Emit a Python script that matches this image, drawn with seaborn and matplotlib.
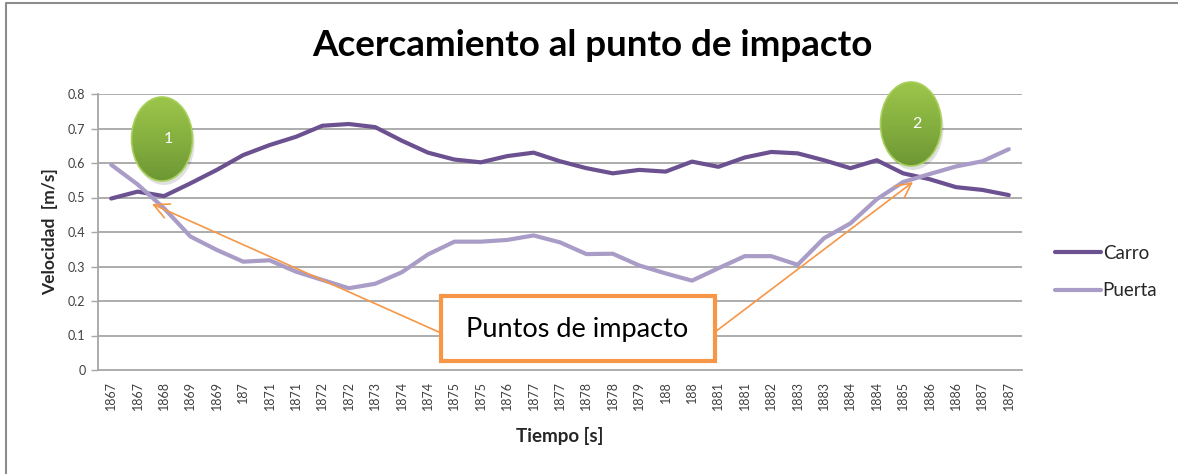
import numpy as np
import pandas as pd
import matplotlib
matplotlib.use("Agg")
import matplotlib.pyplot as plt
import seaborn as sns
from matplotlib.patches import Ellipse, FancyBboxPatch

# Time stamps (as shown on the axis) and velocities of both bodies
tiempo = ["1867", "1867", "1868", "1869", "1869", "187", "1871", "1871", "1872",
          "1872", "1873", "1874", "1874", "1875", "1875", "1876", "1877", "1877",
          "1878", "1878", "1879", "188", "188", "1881", "1881", "1882", "1883",
          "1883", "1884", "1884", "1885", "1886", "1886", "1887", "1887"]
carro = [0.497, 0.517, 0.504, 0.541, 0.580, 0.623, 0.652, 0.676, 0.708, 0.713,
         0.704, 0.665, 0.630, 0.610, 0.602, 0.620, 0.630, 0.605, 0.585, 0.570,
         0.580, 0.575, 0.604, 0.589, 0.616, 0.632, 0.628, 0.608, 0.585, 0.608,
         0.570, 0.553, 0.530, 0.522, 0.507]
puerta = [0.595, 0.538, 0.469, 0.387, 0.348, 0.314, 0.318, 0.285, 0.261, 0.237,
          0.250, 0.283, 0.335, 0.372, 0.372, 0.377, 0.390, 0.370, 0.336, 0.337,
          0.303, 0.280, 0.259, 0.295, 0.330, 0.330, 0.305, 0.382, 0.425, 0.495,
          0.545, 0.568, 0.590, 0.605, 0.640]
y_ticks = [0, 0.1, 0.2, 0.3, 0.4, 0.5, 0.6, 0.7, 0.8]

idx = np.arange(len(tiempo))
df = pd.DataFrame({
    "pos": np.concatenate([idx, idx]),
    "vel": carro + puerta,
    "serie": ["Carro"] * len(carro) + ["Puerta"] * len(puerta),
})

sns.set_theme(style="white")
plt.rcParams["font.family"] = ["Lato", "DejaVu Sans"]

W, H = 1178, 474
fig = plt.figure(figsize=(W / 100, H / 100), dpi=100)
ax = fig.add_axes([98 / W, 1 - 370 / H, 924 / W, 276 / H])

grid_c = "#a6a6a6"
for v in y_ticks[1:]:
    ax.axhline(v, color=grid_c, lw=1.3, zorder=0)

sns.lineplot(data=df, x="pos", y="vel", hue="serie",
             palette={"Carro": "#6c5191", "Puerta": "#a99cc6"},
             lw=3.0, ax=ax, legend=True, zorder=3)

ax.set_xlim(-0.5, len(tiempo) - 0.5)
ax.set_ylim(0, 0.8)
ax.set_yticks(y_ticks)
ax.set_yticklabels([f"{v:g}" for v in y_ticks], fontsize=9, color="#404040")
ax.set_xticks(idx)
ax.set_xticklabels(tiempo, rotation=90, fontsize=9, color="#404040")
ax.tick_params(axis="y", length=5, width=1, color=grid_c, left=True, pad=4)
ax.tick_params(axis="x", length=0, pad=8)
for s in ["top", "right"]:
    ax.spines[s].set_visible(False)
ax.spines["left"].set_color(grid_c)
ax.spines["bottom"].set_color(grid_c)
ax.spines["left"].set_linewidth(1.3)
ax.spines["bottom"].set_linewidth(1.3)

ax.set_xlabel("Tiempo [s]", fontsize=13.5, fontweight="bold", labelpad=12)
ax.set_ylabel("Velocidad  [m/s]", fontsize=12.5, fontweight="bold", labelpad=7)

leg = ax.legend(loc="center left", bbox_to_anchor=(1038 / W, 1 - 272 / H),
                bbox_transform=fig.transFigure, frameon=False, fontsize=13.5,
                handlelength=2.45, labelspacing=1.1, handletextpad=0.1)
for line in leg.get_lines():
    line.set_linewidth(3.0)

fig.text(592 / W, 1 - 45 / H, "Acercamiento al punto de impacto", ha="center",
         va="center", fontsize=26.5, fontweight="bold", color="#000000")

# overlay in pixel units for the callouts
ov = fig.add_axes([0, 0, 1, 1], zorder=10)
ov.set_xlim(0, W)
ov.set_ylim(H, 0)
ov.axis("off")

# outer frame
ov.plot([6, 6, W], [H, 3, 3], color="#8c8c8c", lw=1.5)

grad = np.linspace(0, 1, 256)[:, None]
green = matplotlib.colors.LinearSegmentedColormap.from_list(
    "g", ["#9cc64a", "#86b03f", "#6d9734"])
for (cx, cy, lab) in [(162, 139, "1"), (911, 124, "2")]:
    w, h = 61, 84
    sh = Ellipse((cx + 2, cy + 4), w, h, facecolor="#000000", alpha=0.12,
                 edgecolor="none")
    ov.add_patch(sh)
    e = Ellipse((cx, cy), w, h, facecolor="none", edgecolor="#a9d05c", lw=1.2)
    ov.add_patch(e)
    im = ov.imshow(grad, cmap=green, aspect="auto",
                   extent=(cx - w / 2, cx + w / 2, cy + h / 2, cy - h / 2),
                   zorder=1)
    im.set_clip_path(e)
    e.set_zorder(2)
    ov.text(cx + 6, cy, lab, ha="center", va="center", fontsize=11.5,
            color="white", zorder=3)
ov.set_xlim(0, W)
ov.set_ylim(H, 0)

orange = "#f79646"
arrow_kw = dict(arrowstyle="->,head_length=0.9,head_width=0.45", color=orange,
                lw=1.2, shrinkA=0, shrinkB=0)
ov.annotate("", xy=(152, 204), xytext=(441, 333), arrowprops=arrow_kw)
ov.annotate("", xy=(913, 182), xytext=(715, 332), arrowprops=arrow_kw)

box = FancyBboxPatch((441, 296), 274, 65, boxstyle="square,pad=0",
                     facecolor="white", edgecolor=orange, lw=3, zorder=4)
ov.add_patch(box)
ov.text(577, 329, "Puntos de impacto", ha="center", va="center",
        fontsize=19.5, color="#000000", zorder=5)

fig.savefig("out.png", dpi=100)
